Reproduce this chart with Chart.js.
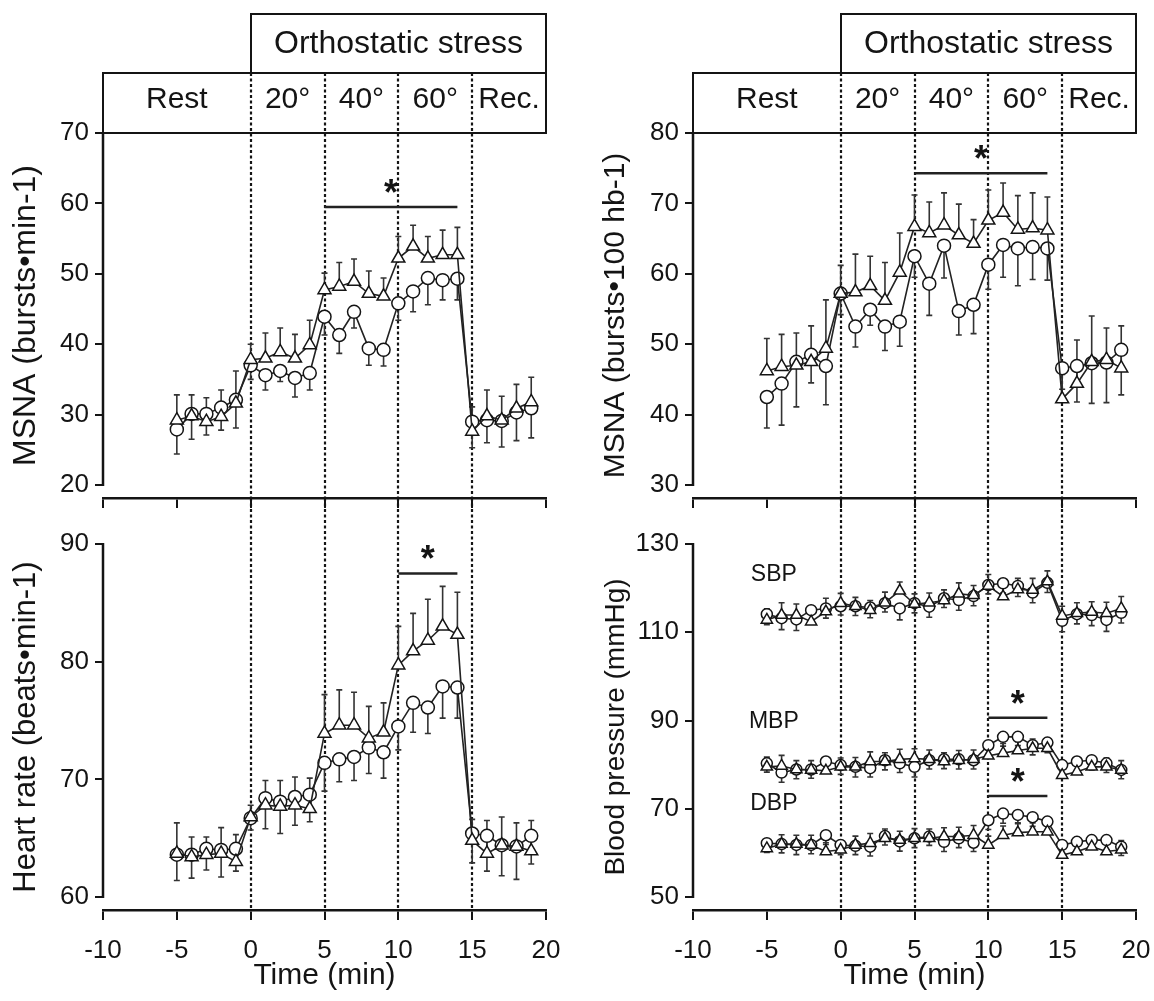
<!DOCTYPE html>
<html>
<head>
<meta charset="utf-8">
<title>MSNA, heart rate and blood pressure during graded orthostatic stress</title>
<script src="https://cdn.jsdelivr.net/npm/chart.js@4.4.1/dist/chart.umd.min.js"></script>
<style>
  html, body { margin: 0; padding: 0; background: #ffffff; }
  #figure { position: relative; width: 1154px; height: 1001px; overflow: hidden; background: #ffffff; }
  #figure canvas { position: absolute; left: 0; top: 0; }
</style>
</head>
<body>
<div id="figure">
  <canvas id="msnaRate" width="1154" height="1001"></canvas>
  <canvas id="heartRate" width="1154" height="1001"></canvas>
  <canvas id="msnaBeat" width="1154" height="1001"></canvas>
  <canvas id="bloodPressure" width="1154" height="1001"></canvas>
</div>
<script>
// ---------- data ----------
const minutes = [-5, -4, -3, -2, -1, 0, 1, 2, 3, 4, 5, 6, 7, 8, 9, 10, 11, 12, 13, 14, 15, 16, 17, 18, 19];

const xTickValues = [-10, -5, 0, 5, 10, 15, 20];
const phaseBounds = [-10, 0, 5, 10, 15, 20];
const phaseNames = ['Rest', '20°', '40°', '60°', 'Rec.'];
const stressTitle = 'Orthostatic stress';
const stressStart = 0;

// MSNA, bursts per minute
const msnaRateTicks = [20, 30, 40, 50, 60, 70];
const msnaRateTri = [29.2, 29.8, 29.0, 29.7, 31.6, 37.8, 38.0, 38.9, 38.0, 39.9, 47.7, 48.2, 48.9, 47.2, 46.8, 52.2, 53.9, 52.2, 52.7, 52.7, 27.6, 29.8, 29.2, 30.9, 31.8];
const msnaRateTriSem = [3.6, 3.0, 3.4, 3.8, 4.6, 2.2, 3.6, 3.4, 3.4, 3.5, 2.4, 3.4, 3.2, 3.2, 2.6, 3.1, 3.0, 3.1, 3.5, 3.9, 3.5, 3.7, 3.4, 3.4, 3.5];
const msnaRateCirc = [27.9, 30.1, 30.1, 31.0, 32.1, 37.0, 35.6, 36.2, 35.2, 35.9, 43.9, 41.3, 44.6, 39.4, 39.2, 45.8, 47.5, 49.4, 49.1, 49.3, 29.0, 29.2, 29.1, 30.3, 30.9];
const msnaRateCircSem = [3.5, 3.6, 3.0, 3.2, 4.0, 2.0, 2.1, 1.5, 2.7, 2.4, 2.6, 2.6, 2.3, 2.4, 2.3, 2.4, 2.9, 3.8, 2.8, 3.0, 3.7, 3.2, 3.7, 4.0, 4.2];
const msnaRateSig = [5, 14, 59.5];

// Heart rate, beats per minute
const hrTicks = [60, 70, 80, 90];
const hrTri = [63.7, 63.4, 63.6, 63.7, 63.0, 66.8, 67.8, 67.7, 67.8, 67.5, 73.9, 74.6, 74.6, 73.5, 74.0, 79.7, 80.9, 81.8, 83.0, 82.3, 64.8, 63.7, 64.4, 64.3, 63.9];
const hrTriSem = [2.6, 1.7, 1.5, 2.2, 2.3, 1.0, 2.1, 2.2, 2.4, 2.6, 3.3, 3.0, 2.8, 2.7, 2.5, 3.3, 3.2, 3.5, 3.4, 3.6, 1.8, 2.8, 2.4, 2.0, 2.6];
const hrCirc = [63.6, 63.6, 64.1, 64.0, 64.1, 66.7, 68.4, 68.1, 68.5, 68.7, 71.4, 71.7, 71.9, 72.7, 72.3, 74.5, 76.5, 76.1, 77.9, 77.8, 65.4, 65.2, 64.4, 64.3, 65.2];
const hrCircSem = [2.2, 2.0, 1.8, 2.3, 1.9, 1.0, 2.6, 2.7, 2.4, 2.3, 2.4, 1.9, 2.0, 2.2, 2.2, 2.0, 2.5, 2.2, 2.7, 2.6, 2.5, 3.0, 2.6, 2.8, 2.4];
const hrSig = [10, 14, 87.5];

// MSNA, bursts per 100 heart beats
const msnaBeatTicks = [30, 40, 50, 60, 70, 80];
const msnaBeatTri = [46.2, 46.8, 47.0, 47.5, 49.4, 57.2, 57.4, 58.3, 56.2, 60.2, 66.7, 65.8, 66.9, 65.5, 64.3, 67.6, 68.7, 66.3, 66.5, 66.2, 42.2, 44.4, 47.5, 47.8, 46.6];
const msnaBeatTriSem = [4.6, 4.6, 4.6, 5.1, 6.9, 4.0, 5.4, 4.2, 5.4, 5.6, 4.5, 4.4, 4.6, 4.4, 3.4, 4.3, 4.2, 4.8, 5.0, 4.7, 3.5, 6.2, 6.5, 4.5, 6.0];
const msnaBeatCirc = [42.5, 44.4, 47.5, 48.5, 46.9, 57.2, 52.5, 54.9, 52.5, 53.2, 62.5, 58.6, 64.0, 54.7, 55.6, 61.3, 64.1, 63.6, 63.8, 63.6, 46.6, 46.9, 47.3, 47.4, 49.2];
const msnaBeatCircSem = [4.4, 5.9, 6.4, 4.0, 5.5, 3.0, 2.9, 2.2, 3.4, 3.5, 3.0, 4.5, 4.6, 3.4, 4.1, 3.5, 4.6, 5.3, 4.6, 4.5, 3.0, 5.1, 5.7, 5.7, 6.4];
const msnaBeatSig = [5, 14, 74.3];

// Blood pressure, mmHg
const bpTicks = [50, 70, 90, 110, 130];
const bpLabels = ['SBP', 'MBP', 'DBP'];
const sbpTri = [112.8, 113.9, 113.9, 112.4, 114.7, 116.6, 115.9, 115.0, 116.7, 119.4, 116.4, 116.7, 117.2, 118.7, 118.4, 120.5, 118.1, 119.7, 119.6, 121.5, 113.7, 114.3, 114.6, 114.3, 115.4];
const sbpTriSem = [2.5, 2.8, 2.5, 2.2, 3.0, 2.2, 2.0, 2.2, 2.4, 2.0, 2.3, 2.2, 2.4, 2.5, 2.2, 2.6, 2.4, 2.5, 2.6, 2.4, 2.2, 2.4, 2.3, 2.5, 2.7];
const sbpCirc = [114.1, 113.2, 112.9, 115.0, 115.4, 115.9, 115.9, 115.6, 116.6, 115.4, 116.6, 115.8, 117.7, 117.3, 118.2, 120.7, 121.1, 120.5, 119.0, 121.2, 112.6, 114.1, 113.9, 112.8, 114.4];
const sbpCircSem = [2.4, 2.6, 2.5, 2.3, 2.2, 2.0, 2.1, 2.3, 2.0, 2.6, 2.2, 2.4, 2.1, 2.3, 2.2, 2.0, 2.2, 2.4, 2.3, 2.2, 2.5, 2.2, 2.4, 2.6, 2.3];
const sbpSig = null;
const mbpTri = [79.5, 79.7, 78.9, 78.8, 78.6, 79.5, 79.5, 80.7, 80.7, 81.2, 81.4, 81.2, 80.7, 81.0, 81.2, 82.0, 82.6, 83.2, 83.7, 83.7, 77.6, 78.4, 79.5, 79.5, 78.8];
const mbpTriSem = [2.2, 2.4, 2.0, 2.1, 2.2, 2.0, 2.1, 2.2, 2.0, 2.3, 2.2, 2.1, 2.0, 2.2, 2.1, 2.3, 2.2, 2.0, 2.1, 2.2, 2.0, 2.1, 2.2, 2.0, 2.1];
const mbpCirc = [80.3, 78.2, 78.9, 78.9, 80.7, 79.9, 79.5, 79.2, 81.0, 80.3, 79.5, 81.0, 81.2, 81.2, 81.0, 84.4, 86.3, 86.3, 84.4, 85.0, 79.9, 80.7, 81.0, 80.3, 78.8];
const mbpCircSem = [2.0, 2.2, 2.1, 2.0, 2.2, 2.1, 2.3, 2.0, 2.2, 2.1, 2.3, 2.0, 2.1, 2.2, 2.0, 2.2, 2.1, 2.0, 2.2, 2.3, 2.1, 2.0, 2.2, 2.1, 2.0];
const mbpSig = [10, 14, 90.6];
const dbpTri = [61.0, 62.0, 62.0, 61.8, 60.3, 60.7, 61.8, 62.2, 63.3, 62.9, 63.3, 63.3, 63.7, 63.7, 64.0, 61.8, 64.0, 64.6, 64.8, 64.8, 59.5, 60.3, 61.4, 60.3, 60.7];
const dbpTriSem = [2.0, 2.1, 2.0, 2.2, 2.0, 2.1, 2.0, 2.2, 2.1, 2.0, 2.2, 2.1, 2.0, 2.1, 2.2, 2.0, 2.1, 2.2, 2.0, 2.1, 2.0, 2.2, 2.1, 2.0, 2.1];
const dbpCirc = [62.2, 62.0, 61.8, 61.8, 64.0, 61.8, 61.6, 61.4, 63.8, 62.6, 63.3, 63.7, 62.5, 63.3, 62.3, 67.4, 68.9, 68.6, 68.1, 67.1, 61.8, 62.5, 62.9, 62.9, 61.4];
const dbpCircSem = [2.1, 2.0, 2.2, 2.0, 2.1, 2.2, 2.0, 2.1, 2.0, 2.2, 2.1, 2.0, 2.2, 2.1, 2.0, 2.1, 2.2, 2.0, 2.1, 2.2, 2.3, 2.1, 2.0, 2.2, 2.0];
const dbpSig = [10, 14, 72.9];

// ---------- layout and style ----------
const PAGE_W = 1154, PAGE_H = 1001;
const FONT = "'Liberation Sans', Arial, Helvetica, sans-serif";
const INK = '#141414';
const PLOT_W = 443;
const Y_AXIS_W = 103;
const AXIS_GAP = 13;       // space between the lowest y tick and the time axis
const HEADER_ROW_H = 60;

function series(values, sem, shape, dir, radius) {
  return {
    data: minutes.map((m, i) => ({ x: m, y: values[i] })),
    sem: sem,
    semDir: dir,
    pointStyle: shape,
    pointRadius: radius,
    pointBackgroundColor: '#ffffff',
    pointBorderColor: INK,
    pointBorderWidth: 1.5,
    borderColor: '#222222',
    borderWidth: 1.6,
    tension: 0,
    fill: false,
    clip: false
  };
}

// vertical dashed lines at the tilt-phase boundaries
const phaseLines = {
  id: 'phaseLines',
  beforeDatasetsDraw(chart, args, opt) {
    const { ctx, chartArea: ca, scales: { x } } = chart;
    ctx.save();
    ctx.strokeStyle = INK;
    ctx.lineWidth = 2.2;
    ctx.setLineDash([3, 2.5]);
    phaseBounds.slice(1, -1).forEach(b => {
      const px = Math.round(x.getPixelForValue(b));
      ctx.beginPath();
      ctx.moveTo(px, ca.top - opt.above);
      ctx.lineTo(px, ca.bottom);
      ctx.stroke();
    });
    ctx.restore();
  }
};

// SEM whiskers: triangles upward, circles downward
const errorBars = {
  id: 'errorBars',
  beforeDatasetsDraw(chart) {
    const { ctx, scales: { x, y } } = chart;
    ctx.save();
    ctx.strokeStyle = '#333333';
    ctx.lineWidth = 1.6;
    chart.data.datasets.forEach(ds => {
      if (!ds.sem) return;
      ds.data.forEach((p, i) => {
        const e = ds.sem[i];
        const px = x.getPixelForValue(p.x);
        const y0 = y.getPixelForValue(p.y);
        const y1 = y.getPixelForValue(p.y + ds.semDir * e);
        ctx.beginPath();
        ctx.moveTo(px, y0);
        ctx.lineTo(px, y1);
        ctx.moveTo(px - 3, y1);
        ctx.lineTo(px + 3, y1);
        ctx.stroke();
      });
    });
    ctx.restore();
  }
};

// y axis line stops at the outer ticks
const yAxisLine = {
  id: 'yAxisLine',
  afterDraw(chart) {
    const { ctx, chartArea: ca, scales: { y } } = chart;
    const t = y.ticks;
    ctx.save();
    ctx.strokeStyle = INK;
    ctx.lineWidth = 2.5;
    ctx.beginPath();
    ctx.moveTo(ca.left, y.getPixelForValue(t[0].value) + 1);
    ctx.lineTo(ca.left, y.getPixelForValue(t[t.length - 1].value) - 1);
    ctx.stroke();
    ctx.restore();
  }
};

// significance bars with asterisks
const sigMarks = {
  id: 'sigMarks',
  afterDatasetsDraw(chart, args, opt) {
    const { ctx, scales: { x, y } } = chart;
    (opt.bars || []).forEach(bar => {
      if (!bar) return;
      const [from, to, level] = bar;
      const x1 = x.getPixelForValue(from), x2 = x.getPixelForValue(to);
      const yy = y.getPixelForValue(level);
      ctx.save();
      ctx.strokeStyle = '#222222';
      ctx.lineWidth = 2.5;
      ctx.beginPath();
      ctx.moveTo(x1, yy);
      ctx.lineTo(x2, yy);
      ctx.stroke();
      ctx.fillStyle = INK;
      ctx.font = 'bold 36px ' + FONT;
      ctx.textAlign = 'center';
      ctx.textBaseline = 'alphabetic';
      ctx.fillText('*', (x1 + x2) / 2, yy - 2);
      ctx.restore();
    });
  }
};

// SBP / MBP / DBP labels above the start of each pair of curves
const curveLabels = {
  id: 'curveLabels',
  afterDatasetsDraw(chart, args, opt) {
    if (!opt.labels) return;
    const { ctx, scales: { x, y } } = chart;
    ctx.save();
    ctx.fillStyle = INK;
    ctx.font = '23px ' + FONT;
    ctx.textAlign = 'center';
    ctx.textBaseline = 'middle';
    opt.labels.forEach((txt, i) => {
      const first = chart.data.datasets[2 * i].data[0];
      ctx.fillText(txt, x.getPixelForValue(first.x) + 7, y.getPixelForValue(first.y) - 45);
    });
    ctx.restore();
  }
};

// phase header: "Orthostatic stress" box over Rest / 20° / 40° / 60° / Rec.
const phaseHeader = {
  id: 'phaseHeader',
  afterDraw(chart, args, opt) {
    if (!opt.show) return;
    const { ctx, chartArea: ca, scales: { x } } = chart;
    const rowTop = ca.top - HEADER_ROW_H;
    const boxTop = rowTop - HEADER_ROW_H + 1;
    const sx = Math.round(x.getPixelForValue(stressStart));
    ctx.save();
    ctx.strokeStyle = INK;
    ctx.lineWidth = 2;
    ctx.beginPath();
    ctx.moveTo(ca.left, ca.top);
    ctx.lineTo(ca.left, rowTop);
    ctx.lineTo(ca.right, rowTop);
    ctx.lineTo(ca.right, ca.top);
    ctx.closePath();
    ctx.stroke();
    ctx.strokeRect(sx, boxTop, ca.right - sx, rowTop - boxTop);
    ctx.fillStyle = INK;
    ctx.textAlign = 'center';
    ctx.textBaseline = 'middle';
    ctx.font = '32px ' + FONT;
    ctx.fillText(stressTitle, (sx + ca.right) / 2, (boxTop + rowTop) / 2 + 1);
    ctx.font = '30px ' + FONT;
    phaseNames.forEach((name, i) => {
      const cx = (x.getPixelForValue(phaseBounds[i]) + x.getPixelForValue(phaseBounds[i + 1])) / 2;
      ctx.fillText(name, cx, (rowTop + ca.top) / 2 - 3);
    });
    ctx.restore();
  }
};

function makePanel(id, o) {
  const xAxisH = o.timeLabels ? PAGE_H - o.bottom : 20;
  const lo = o.yTicks[0], hi = o.yTicks[o.yTicks.length - 1];
  const plotH = o.bottom - o.top;
  const yMin = lo - (hi - lo) * AXIS_GAP / (plotH - AXIS_GAP);
  const titleLine = o.titleSize * 1.2;
  return new Chart(document.getElementById(id), {
    type: 'line',
    data: { datasets: o.datasets },
    options: {
      responsive: false,
      animation: false,
      events: [],
      layout: {
        padding: {
          left: o.left - Y_AXIS_W,
          right: PAGE_W - (o.left + PLOT_W),
          top: o.top,
          bottom: PAGE_H - o.bottom - xAxisH
        }
      },
      plugins: {
        legend: { display: false },
        tooltip: { enabled: false },
        phaseLines: { above: o.dashAbove },
        phaseHeader: { show: o.header },
        sigMarks: { bars: o.sig },
        curveLabels: { labels: o.curveLabels || null }
      },
      scales: {
        x: {
          type: 'linear',
          min: phaseBounds[0],
          max: phaseBounds[phaseBounds.length - 1],
          afterBuildTicks: s => { s.ticks = xTickValues.map(v => ({ value: v })); },
          afterFit: s => { s.height = xAxisH; s.paddingLeft = 0; s.paddingRight = 0; },
          border: { display: true, color: INK, width: 2.5 },
          grid: { drawOnChartArea: false, drawTicks: true, tickLength: 10, color: INK, lineWidth: 2 },
          ticks: { display: o.timeLabels, autoSkip: false, maxRotation: 0, font: { family: FONT, size: 26 }, color: INK, padding: 15 },
          title: { display: o.timeLabels, text: 'Time (min)', font: { family: FONT, size: 30 }, color: INK, padding: { top: 0, bottom: 7 } }
        },
        y: {
          type: 'linear',
          min: yMin,
          max: hi,
          afterBuildTicks: s => { s.ticks = o.yTicks.map(v => ({ value: v })); },
          afterFit: s => { s.width = Y_AXIS_W; s.paddingTop = 0; s.paddingBottom = 0; },
          border: { display: false },
          grid: { drawOnChartArea: false, drawTicks: true, tickLength: 8, color: INK, lineWidth: 2 },
          ticks: { font: { family: FONT, size: 26 }, color: INK, padding: 6 },
          title: { display: true, text: o.yTitle, font: { family: FONT, size: o.titleSize }, color: INK, padding: { top: 26 - titleLine / 2, bottom: 0 } }
        }
      }
    },
    plugins: [phaseLines, errorBars, sigMarks, curveLabels, yAxisLine, phaseHeader]
  });
}

const TOP = { top: 133, bottom: 498 };
const BOTTOM = { top: 544, bottom: 910 };

makePanel('msnaRate', {
  left: 103, top: TOP.top, bottom: TOP.bottom, header: true, timeLabels: false, dashAbove: HEADER_ROW_H,
  yTicks: msnaRateTicks, yTitle: 'MSNA (bursts•min-1)', titleSize: 32, sig: [msnaRateSig],
  datasets: [
    series(msnaRateTri, msnaRateTriSem, 'triangle', 1, 7.5),
    series(msnaRateCirc, msnaRateCircSem, 'circle', -1, 6.5)
  ]
});

makePanel('heartRate', {
  left: 103, top: BOTTOM.top, bottom: BOTTOM.bottom, header: false, timeLabels: true, dashAbove: BOTTOM.top - TOP.bottom,
  yTicks: hrTicks, yTitle: 'Heart rate (beats•min-1)', titleSize: 31, sig: [hrSig],
  datasets: [
    series(hrTri, hrTriSem, 'triangle', 1, 7.5),
    series(hrCirc, hrCircSem, 'circle', -1, 6.5)
  ]
});

makePanel('msnaBeat', {
  left: 693, top: TOP.top, bottom: TOP.bottom, header: true, timeLabels: false, dashAbove: HEADER_ROW_H,
  yTicks: msnaBeatTicks, yTitle: 'MSNA (bursts•100 hb-1)', titleSize: 30, sig: [msnaBeatSig],
  datasets: [
    series(msnaBeatTri, msnaBeatTriSem, 'triangle', 1, 7.5),
    series(msnaBeatCirc, msnaBeatCircSem, 'circle', -1, 6.5)
  ]
});

makePanel('bloodPressure', {
  left: 693, top: BOTTOM.top, bottom: BOTTOM.bottom, header: false, timeLabels: true, dashAbove: BOTTOM.top - TOP.bottom,
  yTicks: bpTicks, yTitle: 'Blood pressure (mmHg)', titleSize: 28, sig: [sbpSig, mbpSig, dbpSig],
  curveLabels: bpLabels,
  datasets: [
    series(sbpTri, sbpTriSem, 'triangle', 1, 6.5),
    series(sbpCirc, sbpCircSem, 'circle', -1, 5.5),
    series(mbpTri, mbpTriSem, 'triangle', 1, 6.5),
    series(mbpCirc, mbpCircSem, 'circle', -1, 5.5),
    series(dbpTri, dbpTriSem, 'triangle', 1, 6.5),
    series(dbpCirc, dbpCircSem, 'circle', -1, 5.5)
  ]
});
</script>
</body>
</html>
